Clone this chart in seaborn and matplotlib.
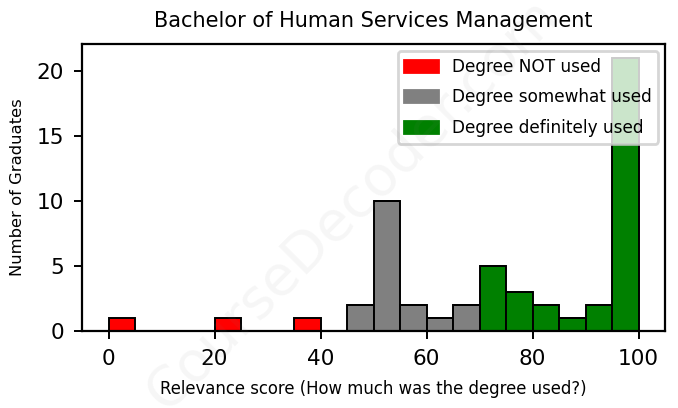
import numpy as np
import pandas as pd
import matplotlib
matplotlib.use('Agg')
import matplotlib.pyplot as plt
import seaborn as sns
from matplotlib.patches import Patch

# bin centres (width 5) and counts
centres = [2.5, 22.5, 37.5,
           47.5, 52.5, 57.5, 62.5, 67.5,
           72.5, 77.5, 82.5, 87.5, 92.5, 97.5]
counts = [1, 1, 1,
          2, 10, 2, 1, 2,
          5, 3, 2, 1, 2, 21]
groups = ['Degree NOT used'] * 3 + ['Degree somewhat used'] * 5 + ['Degree definitely used'] * 6
group_names = ['Degree NOT used', 'Degree somewhat used', 'Degree definitely used']
colori = {'Degree NOT used': 'red', 'Degree somewhat used': 'grey', 'Degree definitely used': 'green'}

df = pd.DataFrame({'score': centres, 'n': counts, 'group': groups})

fig = plt.figure(figsize=(3.39, 2.04), dpi=200)
ax = fig.add_axes([0.121, 0.189, 0.860, 0.703])
sns.histplot(data=df, x='score', weights='n', hue='group', hue_order=group_names,
             palette=colori, binwidth=5, binrange=(0, 100), multiple='stack', alpha=1,
             edgecolor='black', linewidth=0.7, legend=False, ax=ax)

ax.set_title('Bachelor of Human Services Management', fontsize=7.5)
ax.set_xlabel('Relevance score (How much was the degree used?)', fontsize=5.95)
ax.set_ylabel('Number of Graduates', fontsize=5.9)
ax.tick_params(labelsize=7.8, width=0.7, length=3)
for s in ax.spines.values():
    s.set_linewidth(0.8)
ax.set_xticks([0, 20, 40, 60, 80, 100])
ax.set_yticks([0, 5, 10, 15, 20])

patches = [Patch(color=colori[g], label=g) for g in group_names]
ax.legend(handles=patches, loc='upper right', fontsize=6.1, framealpha=0.8,
          labelspacing=0.75, borderaxespad=0.4)

# faint watermark
fig.text(0.52, 0.5, 'CourseDecoder.com', fontsize=20, color='grey', alpha=0.07,
         rotation=45, ha='center', va='center')

fig.savefig('out.png', dpi=200)
